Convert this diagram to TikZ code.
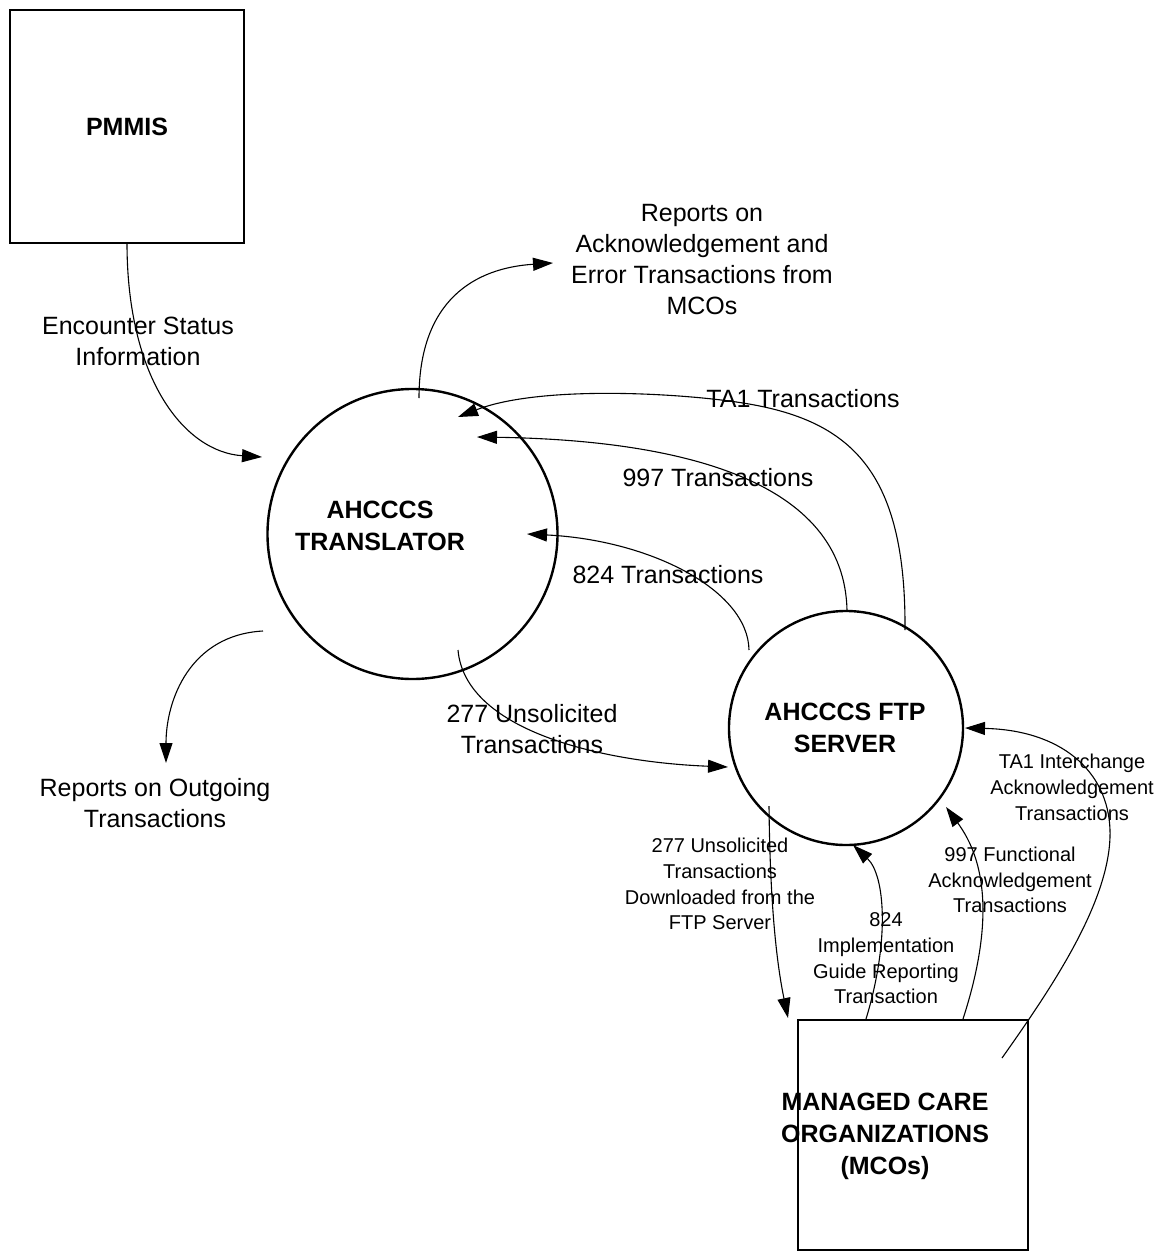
\documentclass[tikz,border=0pt]{standalone}
\usepackage{fontspec}
\setmainfont{Liberation Sans}
\usetikzlibrary{arrows.meta}
\begin{document}
\begin{tikzpicture}[x=1pt,y=-1pt,
  box/.style={draw,line width=2.4pt,inner sep=0pt,outer sep=0pt,anchor=north west},
  proc/.style={draw,circle,line width=2.4pt,inner sep=0pt,outer sep=0pt},
  flow/.style={line width=1.1pt,-{Triangle[length=20pt,width=13pt]}},
  plainflow/.style={line width=1.1pt},
  big/.style={align=center,inner sep=0pt,font=\fontsize{25}{31}\selectfont},
  small/.style={align=center,inner sep=0pt,font=\fontsize{20}{25.7}\selectfont},
  boldlbl/.style={align=center,inner sep=0pt,font=\fontsize{25}{32}\selectfont\bfseries},
]
\useasboundingbox (0,0) rectangle (1168,1252);

% entities and processes
\node[box,minimum width=234pt,minimum height=233pt,font=\fontsize{25}{32}\selectfont\bfseries] (pmmis) at (10,10) {PMMIS};
\node[proc,minimum size=290pt] (trans) at (412.5,534) {};
\node[proc,minimum size=234pt] (ftp) at (846,728) {};
\node[box,minimum width=230pt,minimum height=230pt] (mco) at (798,1020) {};

\node[boldlbl] (transtxt) at (380,526) {AHCCCS\\TRANSLATOR};
\node[boldlbl] (ftptxt) at (845,727.5) {AHCCCS FTP\\SERVER};
\node[boldlbl] (mcotxt) at (885,1136) {MANAGED CARE\\ORGANIZATIONS\\(MCOs)};

% labels
\node[big] (enc) at (138,341.5) {Encounter Status\\Information};
\node[big] (rep) at (702,260) {Reports on\\Acknowledgement and\\Error Transactions from\\MCOs};
\node[big] (ta1) at (803,399) {TA1 Transactions};
\node[big] (l997) at (718,478) {997 Transactions};
\node[big] (l824) at (668,575) {824 Transactions};
\node[big] (l277) at (532,729.5) {277 Unsolicited\\Transactions};
\node[big] (out) at (155,803) {Reports on Outgoing\\Transactions};
\node[small] (dl) at (720,884) {277 Unsolicited\\Transactions\\Downloaded from the\\FTP Server};
\node[small] (impl) at (886,958.5) {824\\Implementation\\Guide Reporting\\Transaction};
\node[small] (func) at (1010,880) {997 Functional\\Acknowledgement\\Transactions};
\node[small] (ta1i) at (1072,787.5) {TA1 Interchange\\Acknowledgement\\Transactions};

% connector end points
\coordinate (encS) at (127,243);
\coordinate (encE) at (262,457);
\coordinate (repS) at (419,398);
\coordinate (repE) at (553,263);
\coordinate (taS) at (905,630);
\coordinate (taM) at (743,403);
\coordinate (taE) at (458,417);
\coordinate (nnS) at (847,611);
\coordinate (nnE) at (477,437);
\coordinate (ecS) at (749,650);
\coordinate (ecE) at (527,534);
\coordinate (usS) at (458,650);
\coordinate (usE) at (728,767);
\coordinate (ogS) at (263,631);
\coordinate (ogE) at (166,763);
\coordinate (dlS) at (769,806);
\coordinate (dlE) at (788,1018);
\coordinate (imS) at (866,1019);
\coordinate (imE) at (853,845);
\coordinate (fnS) at (963,1019);
\coordinate (fnE) at (946,807);
\coordinate (tiS) at (1002,1058);
\coordinate (tiM) at (1110,830);
\coordinate (tiE) at (965,728);

% connectors
\draw[flow] (encS) .. controls (127,380) and (185,452) .. (encE);
\draw[flow] (repS) .. controls (419,300) and (475,268) .. (repE);
\draw[plainflow] (taS) .. controls (906,470) and (850,420) .. (taM);
\draw[flow] (taM) .. controls (680,393) and (540,385) .. (taE);
\draw[flow] (nnS) .. controls (845,480) and (680,440) .. (nnE);
\draw[flow] (ecS) .. controls (748,590) and (650,540) .. (ecE);
\draw[flow] (usS) .. controls (465,730) and (600,762) .. (usE);
\draw[flow] (ogS) .. controls (190,635) and (166,700) .. (ogE);
\draw[flow] (dlS) .. controls (770,900) and (776,960) .. (dlE);
\draw[flow] (imS) .. controls (890,940) and (885,875) .. (imE);
\draw[flow] (fnS) .. controls (995,920) and (985,860) .. (fnE);
\draw[plainflow] (tiS) .. controls (1050,990) and (1112,900) .. (tiM);
\draw[flow] (tiM) .. controls (1108,770) and (1060,730) .. (tiE);
\end{tikzpicture}
\end{document}
